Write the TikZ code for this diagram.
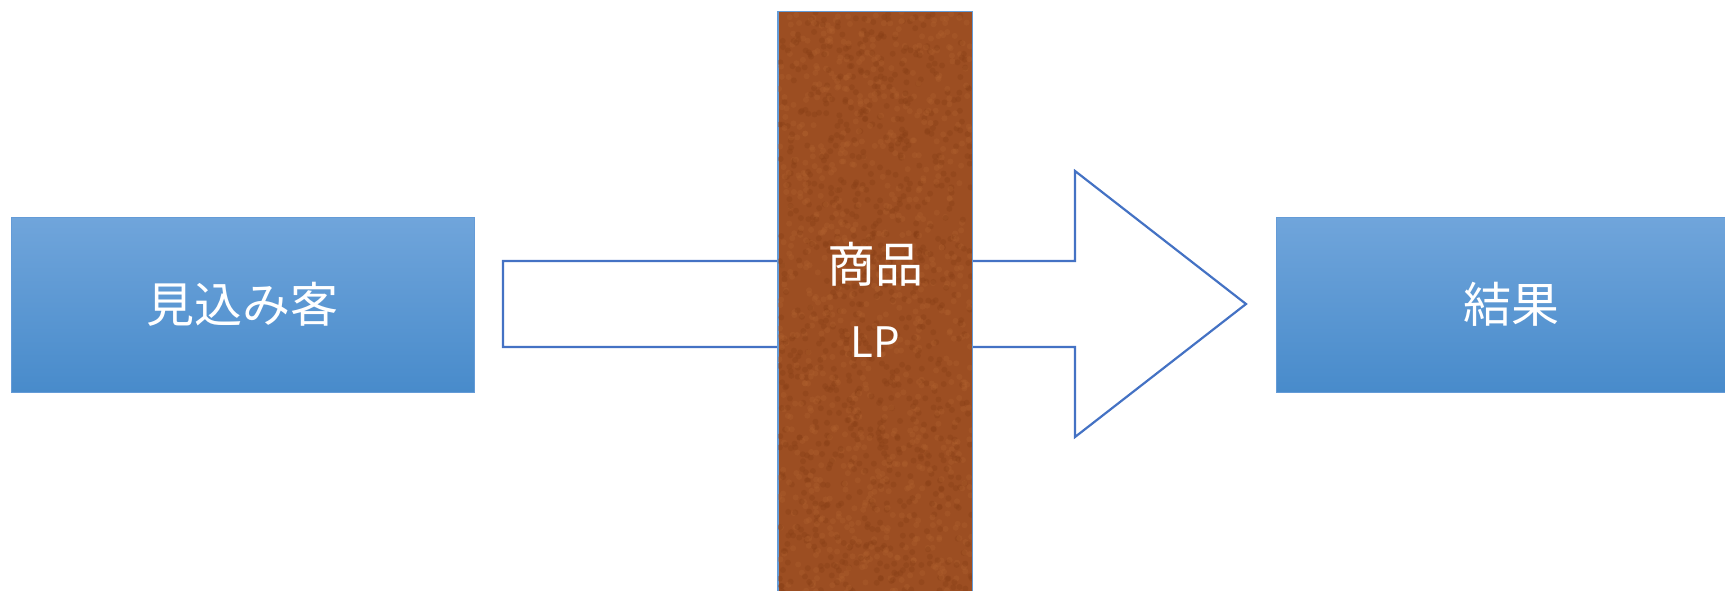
\documentclass[tikz,border=0pt]{standalone}
\usepackage{fontspec}
\newfontfamily\jpfont{Noto Sans CJK JP}
\definecolor{boxtop}{RGB}{112,165,219}
\definecolor{boxbot}{RGB}{72,139,203}
\definecolor{boxline}{RGB}{100,155,215}
\definecolor{barbrown}{RGB}{156,78,34}
\definecolor{bardark}{RGB}{135,62,22}
\definecolor{barlight}{RGB}{176,96,46}
\definecolor{arrowline}{RGB}{68,114,196}
\begin{document}
\begin{tikzpicture}[x=1pt,y=-1pt,
  stagebox/.style={rectangle,draw=boxline,line width=0.8pt,top color=boxtop,bottom color=boxbot,
    minimum height=175pt,text=white,font=\jpfont\fontsize{48}{48}\selectfont},
  lpbar/.style={rectangle,draw=boxline,line width=1pt,fill=barbrown,minimum width=194pt,
    minimum height=588pt},
  bartext/.style={text=white,inner sep=0pt,font=\jpfont\fontsize{#1}{#1}\selectfont}]
\useasboundingbox (0,0) rectangle (1725,591);
\node[stagebox,minimum width=463pt] (prospect) at (242.5,304.5) {見込み客};
\node[stagebox,minimum width=470pt] (result) at (1511,304.5) {結果};
% 矢印は帯の後ろを通る
\draw[arrowline,line width=2.2pt,fill=white,line join=miter]
  (503,261) -- (1075,261) -- (1075,171) -- (1246,304) -- (1075,437) -- (1075,347) -- (503,347) -- cycle;
\node[lpbar] (product) at (875,306) {};
\begin{scope}
  \clip (product.south west) rectangle (product.north east);
  \pgfmathsetseed{7}
  \foreach \i in {1,...,900}{
    \pgfmathsetmacro{\px}{779+193*rnd}
    \pgfmathsetmacro{\py}{12+590*rnd}
    \fill[bardark,opacity=0.35] (\px,\py) circle (3pt);
    \pgfmathsetmacro{\qx}{779+193*rnd}
    \pgfmathsetmacro{\qy}{12+590*rnd}
    \fill[barlight,opacity=0.35] (\qx,\qy) circle (3pt);
  }
\end{scope}
\draw[boxline,line width=1pt] (product.south west) rectangle (product.north east);
\node[bartext=48] (productname) at (875,264) {商品};
\node[bartext=42] (lpname) at (875,342) {LP};
\end{tikzpicture}
\end{document}
